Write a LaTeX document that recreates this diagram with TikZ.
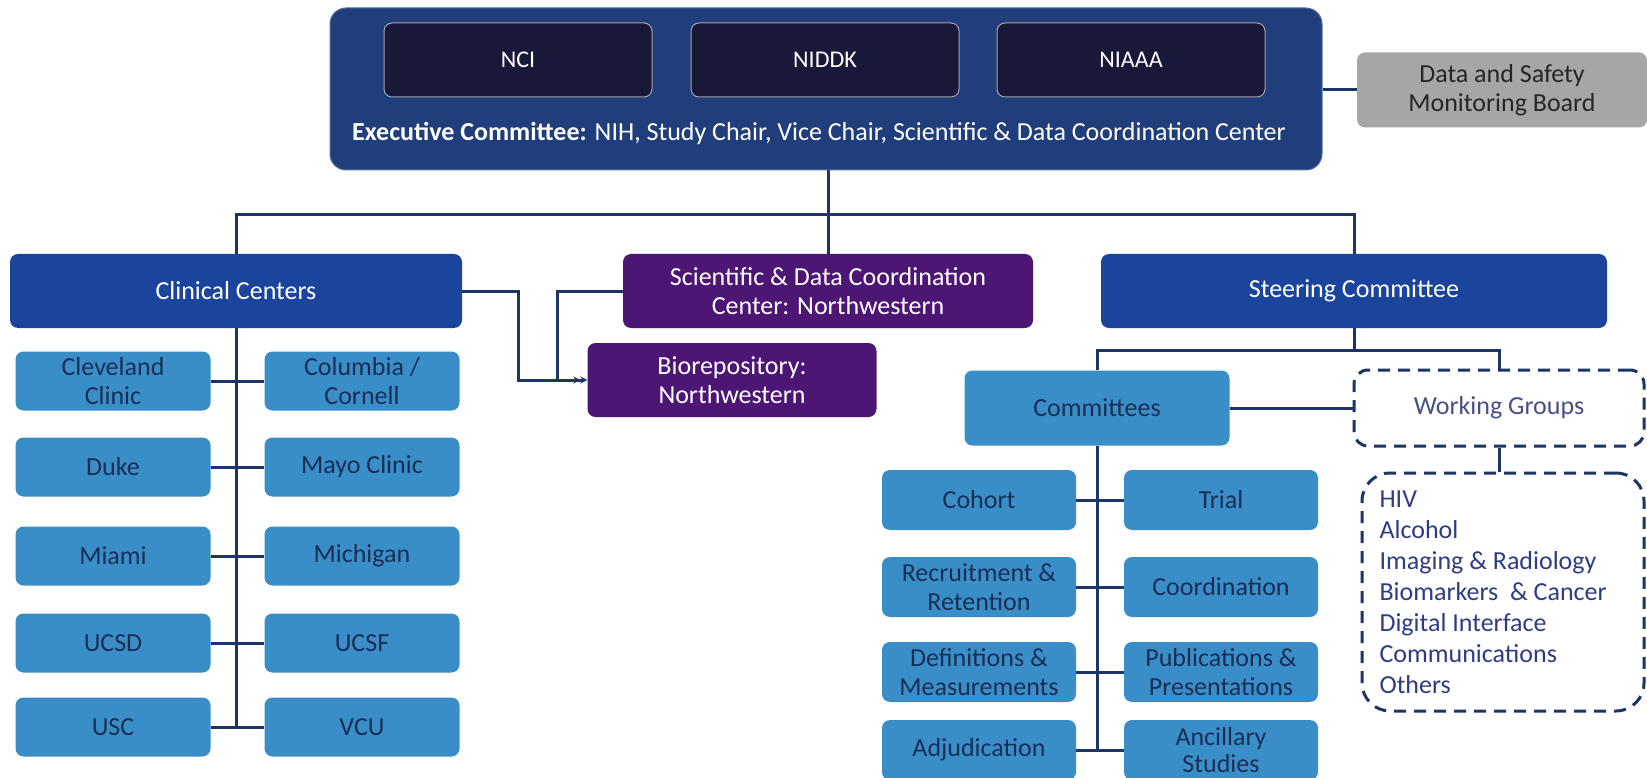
\documentclass[tikz,border=0pt]{standalone}
\usepackage{fontspec}
\setmainfont{Carlito}
\usetikzlibrary{arrows.meta,positioning}

\definecolor{execblue}{RGB}{32,62,124}
\definecolor{instnavy}{RGB}{24,24,56}
\definecolor{royal}{RGB}{27,68,156}
\definecolor{nwpurple}{RGB}{78,22,116}
\definecolor{lite}{RGB}{58,142,199}
\definecolor{litetext}{RGB}{24,46,86}
\definecolor{linecol}{RGB}{28,52,102}
\definecolor{dsmbgray}{RGB}{166,166,166}
\definecolor{wgtext}{RGB}{46,60,132}

\begin{document}
\begin{tikzpicture}[x=1pt, y=-1pt, font=\fontsize{26}{29}\selectfont,
	box/.style={rounded corners=8pt, align=center, inner sep=0pt},
	inst/.style={box, fill=instnavy, draw=gray!70, line width=1pt, text=white,
		font=\fontsize{24}{29}\selectfont, minimum width=268pt, minimum height=74pt},
	main/.style={box, fill=royal, text=white, minimum height=74pt},
	nw/.style={box, fill=nwpurple, text=white, minimum height=74pt},
	site/.style={box, fill=lite, text=litetext, minimum width=195pt, minimum height=59pt},
	dashbox/.style={draw=linecol, line width=3pt, dash pattern=on 12pt off 8pt, align=center},
	link/.style={draw=linecol, line width=3pt}]

	\fill[white] (0,0) rectangle (1647,778);
	\useasboundingbox (0,0) rectangle (1647,778);

	%executive committee
	\node[box, rounded corners=16pt, fill=execblue, draw=execblue!75!white, line width=1pt,
		minimum width=992pt, minimum height=162pt] (exec) at (826,89) {};
	\node[inst] (nci) at (518,60) {NCI};
	\node[inst] (niddk) at (825,60) {NIDDK};
	\node[inst] (niaaa) at (1131,60) {NIAAA};
	\node[text=white] (exectext) at (819,133)
		{\textbf{Executive Committee:} NIH, Study Chair, Vice Chair, Scientific \& Data Coordination Center};
	\node[box, fill=dsmbgray, text=black!85, minimum width=290pt, minimum height=75pt]
		(dsmb) at (1502,90) {Data and Safety\\Monitoring Board};

	%second level
	\node[main, minimum width=452pt] (clin) at (236,291) {Clinical Centers};
	\node[nw, minimum width=410pt] (sdcc) at (828,291) {Scientific \& Data Coordination\\Center: Northwestern};
	\node[main, minimum width=506pt] (steer) at (1354,291) {Steering Committee};
	\node[nw, minimum width=289pt] (bio) at (732,380) {Biorepository:\\Northwestern};

	%clinical sites
	\node[site] (clev) at (113,381) {Cleveland\\Clinic};
	\node[site] (colu) at (362,381) {Columbia /\\Cornell};
	\node[site] (duke) at (113,467) {Duke};
	\node[site] (mayo) at (362,467) {Mayo Clinic};
	\node[site] (miami) at (113,556) {Miami};
	\node[site] (mich) at (362,556) {Michigan};
	\node[site] (ucsd) at (113,643) {UCSD};
	\node[site] (ucsf) at (362,643) {UCSF};
	\node[site] (usc) at (113,727) {USC};
	\node[site] (vcu) at (362,727) {VCU};

	%committees and working groups
	\node[site, minimum width=265pt, minimum height=75pt] (comm) at (1097,408) {Committees};
	\node[dashbox, rounded corners=14pt, text=wgtext!70!gray, minimum width=290pt, minimum height=76pt]
		(wg) at (1499,408) {Working Groups};
	\node[dashbox, rounded corners=28pt, minimum width=282pt, minimum height=238pt] (list) at (1503,592) {};
	\node[anchor=west, align=left, text=wgtext, font=\fontsize{26}{31}\selectfont] (groups) at (1376,592)
		{HIV\\Alcohol\\Imaging \& Radiology\\Biomarkers \ \& Cancer\\Digital Interface\\Communications\\Others};

	\node[site, minimum width=194pt, minimum height=60pt] (cohort) at (979,500) {Cohort};
	\node[site, minimum width=194pt, minimum height=60pt] (trial) at (1221,500) {Trial};
	\node[site, minimum width=194pt, minimum height=60pt] (recruit) at (979,587) {Recruitment \&\\Retention};
	\node[site, minimum width=194pt, minimum height=60pt] (coord) at (1221,587) {Coordination};
	\node[site, minimum width=194pt, minimum height=60pt] (defs) at (979,672) {Definitions \&\\Measurements};
	\node[site, minimum width=194pt, minimum height=60pt] (pubs) at (1221,672) {Publications \&\\Presentations};
	\node[site, minimum width=194pt, minimum height=60pt] (adjud) at (979,750) {Adjudication};
	\node[site, minimum width=194pt, minimum height=60pt, font=\fontsize{26}{27}\selectfont]
		(ancil) at (1221,750) {Ancillary\\Studies};

	%connectors
	\coordinate (hub) at (828,215);
	\coordinate (split) at (1354,350);
	\coordinate (biojoin) at (557,380);
	\draw[link] (dsmb.west -| exec.east) -- (dsmb.west);
	\draw[link] (exec.south -| sdcc.north) -- (sdcc.north);
	\draw[link] (clin.north) |- (hub) -| (steer.north);
	\draw[link] (sdcc.west) -| (biojoin);
	\draw[link, -{Stealth[length=7pt,width=7pt]Stealth[length=7pt,width=7pt]}]
		(clin.east) -- ++(56,0) |- (bio.west);
	\draw[link] (clin.south) -- (clin.south |- usc);
	\foreach \a/\b in {clev/colu, duke/mayo, miami/mich, ucsd/ucsf, usc/vcu}
		\draw[link] (\a) -- (\b);
	\draw[link] (steer.south) -- (split);
	\draw[link] (comm.north) |- (split) -| (wg.north);
	\draw[link] (comm) -- (wg);
	\draw[link] (wg.south) -- (wg.south |- list.north);
	\draw[link] (comm.south) -- (comm.south |- adjud);
	\foreach \a/\b in {cohort/trial, recruit/coord, defs/pubs, adjud/ancil}
		\draw[link] (\a) -- (\b);
\end{tikzpicture}
\end{document}
